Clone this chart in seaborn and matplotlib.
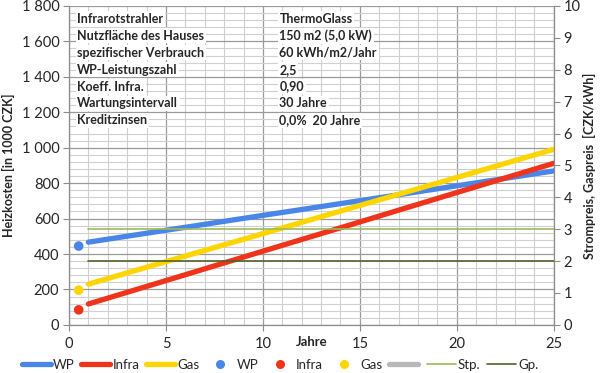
import numpy as np
import pandas as pd
import matplotlib
matplotlib.use('Agg')
import matplotlib.pyplot as plt
import seaborn as sns
from matplotlib.lines import Line2D
from matplotlib.ticker import MultipleLocator, FuncFormatter

# Daten
jahre = [1, 5, 10, 15, 20, 25]
wp = [467, 534, 618, 701, 785, 869]
infra = [118, 250, 416, 581, 747, 912]
gas = [230, 357, 515, 674, 832, 991]

punkt_x = [0.5]
wp_start = [445]
infra_start = [85]
gas_start = [196]

strompreis = 3.0   # rechte Achse
gaspreis = 2.0

tabelle_links = ['Infrarotstrahler', 'Nutzfläche des Hauses', 'spezifischer Verbrauch',
                 'WP-Leistungszahl', 'Koeff. Infra.', 'Wartungsintervall', 'Kreditzinsen']
tabelle_rechts = ['ThermoGlass', '150 m2 (5,0 kW)', '60 kWh/m2/Jahr',
                  '2,5', '0,90', '30 Jahre', '0,0%  20 Jahre']

c_wp = '#4a86e8'
c_infra = '#f0341c'
c_gas = '#ffd500'
c_stp = '#9bbb59'
c_gp = '#4f6228'

sns.set_style('white')
plt.rcParams['font.family'] = ['Lato', 'DejaVu Sans']

fig = plt.figure(figsize=(6, 3.73), dpi=100)
ax = fig.add_axes([0.115, 0.129, 0.808, 0.855])
ax2 = ax.twinx()

sns.lineplot(x=jahre, y=wp, ax=ax, color=c_wp, lw=3.8, label='WP', legend=False)
sns.lineplot(x=jahre, y=infra, ax=ax, color=c_infra, lw=3.8, label='Infra', legend=False)
sns.lineplot(x=jahre, y=gas, ax=ax, color=c_gas, lw=3.8, label='Gas', legend=False)
sns.scatterplot(x=punkt_x, y=wp_start, ax=ax, color=c_wp, s=48, edgecolor='none', legend=False)
sns.scatterplot(x=punkt_x, y=infra_start, ax=ax, color=c_infra, s=48, edgecolor='none', legend=False)
sns.scatterplot(x=punkt_x, y=gas_start, ax=ax, color=c_gas, s=48, edgecolor='none', legend=False)

ax2.plot([1, 25], [strompreis, strompreis], color=c_stp, lw=1.2)
ax2.plot([1, 25], [gaspreis, gaspreis], color=c_gp, lw=1.2)

ax.set_xlim(0, 25)
ax.set_ylim(0, 1800)
ax2.set_ylim(0, 10)

ax.xaxis.set_major_locator(MultipleLocator(5))
ax.xaxis.set_minor_locator(MultipleLocator(1))
ax.yaxis.set_major_locator(MultipleLocator(200))
ax.yaxis.set_minor_locator(MultipleLocator(40))
ax.yaxis.set_major_formatter(FuncFormatter(lambda v, p: f'{int(v):,}'.replace(',', ' ')))
ax2.yaxis.set_major_locator(MultipleLocator(1))

ax.grid(which='major', color='#9a9a9a', lw=0.9)
ax.grid(which='minor', color='#d0d0d0', lw=0.8)
ax.set_axisbelow(True)

for a in (ax, ax2):
    for s in a.spines.values():
        s.set_visible(False)
ax.spines['left'].set_visible(True)
ax.spines['bottom'].set_visible(True)
ax2.spines['right'].set_visible(True)
for s in (ax.spines['left'], ax.spines['bottom'], ax2.spines['right']):
    s.set_color('#8c8c8c')
    s.set_linewidth(0.9)

ax.tick_params(axis='both', which='major', labelsize=10.5, length=4, color='#8c8c8c', direction='out', pad=3)
ax.tick_params(axis='x', which='major', pad=5)
ax.tick_params(which='minor', length=0)
ax2.tick_params(axis='y', labelsize=10.5, length=4, color='#8c8c8c', pad=3)
ax.tick_params(left=True, bottom=True)
ax2.tick_params(right=True)

ax.set_ylabel('Heizkosten [in 1000 CZK]', fontsize=9, fontweight='bold', labelpad=5)
ax2.set_ylabel('Strompreis, Gaspreis  [CZK/kWh]', fontsize=9, fontweight='bold', labelpad=2)
ax.text(0.5, -0.055, 'Jahre', transform=ax.transAxes, ha='center', va='center',
        fontsize=9.5, fontweight='bold')

# Parametertabelle oben links
for i, (l, r) in enumerate(zip(tabelle_links, tabelle_rechts)):
    y = 1 - (18 + i * 16.9 - 5) / 319
    ax.text(0.017, y, l, transform=ax.transAxes, fontsize=9, fontweight='bold',
            va='center', ha='left', bbox=dict(facecolor='white', edgecolor='none', pad=1.2), zorder=5)
    ax.text(0.434, y, r, transform=ax.transAxes, fontsize=9, fontweight='bold',
            va='center', ha='left', bbox=dict(facecolor='white', edgecolor='none', pad=1.2), zorder=5)

handles = [
    Line2D([], [], color=c_wp, lw=3.8),
    Line2D([], [], color=c_infra, lw=3.8),
    Line2D([], [], color=c_gas, lw=3.8),
    Line2D([], [], color=c_wp, marker='o', ls='none', ms=6.5, mec='none'),
    Line2D([], [], color=c_infra, marker='o', ls='none', ms=6.5, mec='none'),
    Line2D([], [], color=c_gas, marker='o', ls='none', ms=6.5, mec='none'),
    Line2D([], [], color='#b8b8b8', lw=3.8),
    Line2D([], [], color=c_stp, lw=1.2),
    Line2D([], [], color=c_gp, lw=1.2),
]
labels = ['WP', 'Infra', 'Gas', 'WP', 'Infra', 'Gas', '', 'Stp.', 'Gp.']
fig.legend(handles, labels, loc='center', bbox_to_anchor=(0.467, 0.022), ncol=9, frameon=False,
           fontsize=9.5, handlelength=2.2, handletextpad=0.15, columnspacing=0.5,
           borderpad=0, borderaxespad=0)

fig.savefig('out.png', dpi=100)
